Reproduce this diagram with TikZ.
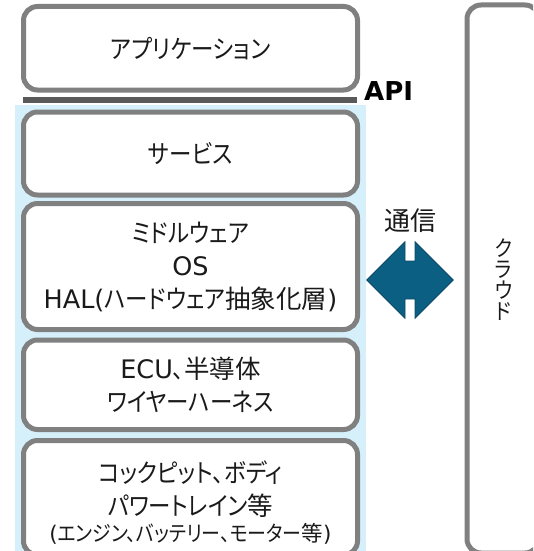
\documentclass[tikz,border=0pt]{standalone}
\usepackage{fontspec}
\setmainfont{DejaVu Sans}
\newfontfamily\jp[RawFeature=+palt, FakeStretch=0.88]{Noto Sans CJK JP}
\newfontfamily\kj[RawFeature=+palt]{Noto Sans CJK JP}
\newfontfamily\lat{DejaVu Sans}
\definecolor{boxgray}{HTML}{808080}
\definecolor{apigray}{HTML}{595959}
\definecolor{lightblue}{HTML}{D6F0FB}
\definecolor{arrowblue}{HTML}{0B5F82}
\definecolor{arrowedge}{HTML}{0D4A66}
\definecolor{txt}{HTML}{1A1A1A}
\tikzset{
  layer/.style={draw=boxgray, line width=5pt, rounded corners=14pt, fill=white,
    minimum width=334pt, align=center, text=txt, inner sep=0pt,
    font=\jp\fontsize{25.5}{33}\selectfont},
  plaintext/.style={align=center, text=txt, inner sep=0pt},
}
\begin{document}
\begin{tikzpicture}[x=1pt,y=-1pt]
\useasboundingbox (0,0) rectangle (533,551);
\clip (0,0) rectangle (533,551);
% light blue band
\fill[lightblue] (14.6,104.8) rectangle (365.6,560);
% API bar
\coordinate (apiL) at (22.8,99.8);
\coordinate (apiR) at (357,99.8);
\draw[apigray, line width=5.7pt] (apiL) -- (apiR);
\node[anchor=base west, text=black, font=\lat\bfseries\fontsize{26}{30}\selectfont, inner sep=0pt] (api) at (364,100) {API};
% layers
\node[layer, minimum height=83.5pt] (app) at (190.5,48.25) {アプリケーション};
\node[layer, minimum height=83pt] (service) at (190.5,153.5) {サービス};
\node[layer, minimum height=126pt] (middle) at (190.5,266.5) {ミドルウェア\\{\lat OS}\\{\lat HAL(}ハードウェア{\kj 抽象化層}{\lat )}};
\node[layer, minimum height=89.5pt] (ecu) at (190.5,384.75) {{\lat ECU}、{\kj 半導体}\\ワイヤーハーネス};
\node[layer, minimum height=114.5pt] (cockpit) at (190.5,497.75) {};
\node[plaintext, font=\jp\fontsize{25.5}{33}\selectfont] (cockpittext) at (190.5,503) {コックピット、ボディ\\パワートレイン{\kj 等}\\[-7pt]{\fontsize{21.5}{24}\selectfont{\lat (}エンジン、バッテリー、モーター{\kj 等}{\lat )}}};
% cloud
\node[draw=boxgray, line width=5pt, rounded corners=14pt, minimum width=72pt, minimum height=548pt] (cloud) at (503,279) {};
\node[plaintext, font=\jp\fontsize{22}{21}\selectfont] (cloudtext) at (503.5,280) {ク\\ラ\\ウ\\ド};
% communication arrow
\node[plaintext, font=\kj\fontsize{26}{30}\selectfont] (comm) at (410,221) {通信};
\fill[arrowblue, draw=arrowedge, line width=0.8pt, line join=miter]
  (366.7,280) -- (405,241.7) -- (405,261) -- (415,261) -- (415,241.7) -- (453.3,280)
  -- (415,318.3) -- (415,299) -- (405,299) -- (405,318.3) -- cycle;
\end{tikzpicture}
\end{document}
